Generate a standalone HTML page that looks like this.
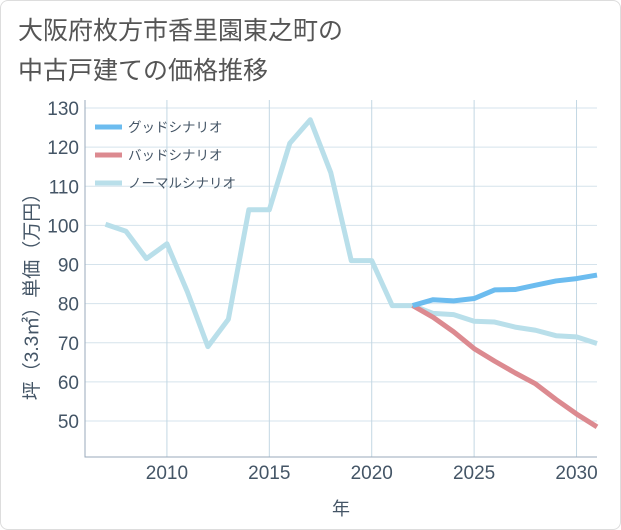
<!DOCTYPE html>
<html><head><meta charset="utf-8"><style>
body{margin:0;background:#fff;font-family:"Liberation Sans","Noto Sans CJK JP",sans-serif}
#wrap{position:relative;width:619px;height:528px;border:1px solid #ddd;border-radius:8px;overflow:hidden}
h1{position:absolute;left:17px;top:10px;margin:0;font-weight:normal;font-size:25px;line-height:40px;color:#555}
</style></head><body>
<div id="wrap">
<h1>大阪府枚方市香里園東之町の<br>中古戸建ての価格推移</h1>
<svg id="c" width="621" height="530" style="position:absolute;left:-1px;top:-1px"></svg>
</div>
<script>
const years=[2007,2008,2009,2010,2011,2012,2013,2014,2015,2016,2017,2018,2019,2020,2021,2022,2023,2024,2025,2026,2027,2028,2029,2030,2031];
const normal=[100.3,98.5,91.5,95.3,83,69,76,104,104,121,127,113.5,91,91,79.5,79.5,77.5,77.2,75.5,75.3,74,73.2,71.8,71.5,69.8];
const fYears=[2022,2023,2024,2025,2026,2027,2028,2029,2030,2031];
const good=[79.5,81,80.7,81.3,83.5,83.6,84.7,85.8,86.4,87.3];
const bad=[79.5,76.5,72.8,68.5,65.3,62.3,59.5,55.5,51.8,48.5];
const xTicks=[2010,2015,2020,2025,2030];
const yTicks=[50,60,70,80,90,100,110,120,130];
const L=85,R=597,T=100,B=457;
const x=v=>L+(v-2006)*(R-L)/25;
const y=v=>421-(v-50)*313/80;
const s=document.getElementById('c');const NS='http://www.w3.org/2000/svg';
function mk(t,a,p){const e=document.createElementNS(NS,t);for(const k in a)e.setAttribute(k,a[k]);(p||s).appendChild(e);return e;}
yTicks.forEach(v=>{const l=mk('line',{x1:L,x2:R,y1:y(v),y2:y(v),stroke:'#d5e3ec'});

const t=mk('text',{x:79,y:y(v)+7,'text-anchor':'end','font-size':19,fill:'#456'});t.textContent=v;
});
xTicks.forEach(v=>{const l=mk('line',{x1:x(v),x2:x(v),y1:T,y2:B,stroke:'#c3d7e3'});

const t=mk('text',{x:x(v),y:479,'text-anchor':'middle','font-size':19,fill:'#456'});t.textContent=v;
});
const ax=mk('path',{d:`M${L} ${T}V${B}H${R}`,fill:'none',stroke:'#9ab'});

function line(xs,vs,c,n){const p=mk('polyline',{points:xs.map((v,i)=>x(v)+','+y(vs[i])).join(' '),fill:'none',stroke:c,'stroke-width':5,'stroke-linejoin':'round'});
}
line(years,normal,'#b9dfea','normal-series');
line(fYears,bad,'#dc8a90','bad-series');
line(fYears,good,'#6cbcef','good-series');
[['グッドシナリオ','#6cbcef'],['バッドシナリオ','#dc8a90'],['ノーマルシナリオ','#b9dfea']].forEach((d,i)=>{
const g=mk('g',{});
mk('line',{x1:95,x2:122,y1:127+i*28,y2:127+i*28,stroke:d[1],'stroke-width':5},g);
const t=mk('text',{x:128,y:132+i*28,'font-size':13.5,fill:'#456'},g);t.textContent=d[0];});
const xt=mk('text',{x:341,y:515,'text-anchor':'middle','font-size':18,fill:'#456'});xt.textContent='年';

const yt=mk('text',{x:0,y:0,transform:'translate(38,292) rotate(-90)','text-anchor':'middle','font-size':19,fill:'#456'});yt.textContent='坪（3.3㎡）単価（万円）';

</script>
</body></html>
